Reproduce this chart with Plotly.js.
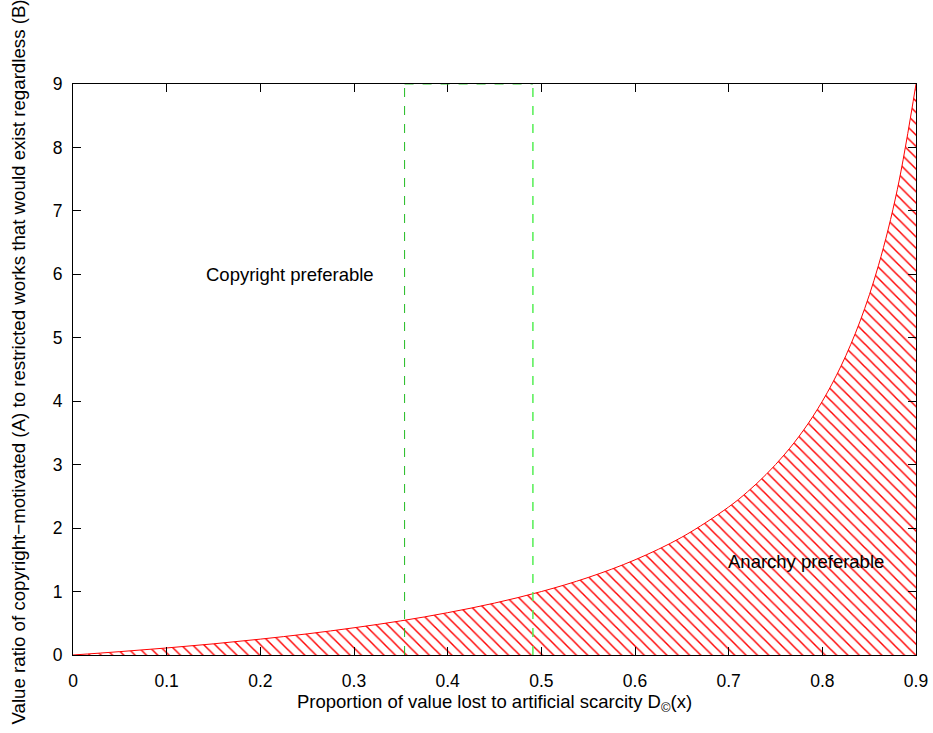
<!DOCTYPE html>
<html>
<head>
<meta charset="utf-8">
<script src="https://cdn.plot.ly/plotly-3.0.1.min.js"></script>
<style>html,body{margin:0;padding:0;background:#fff;}#chart{width:933px;height:733px;}</style>
</head>
<body>
<div id="chart"></div>
<script>
// Proportion of value lost (x) and value ratio (y)
const lossX = [0, 0.05, 0.1, 0.15, 0.2, 0.25, 0.3, 0.35, 0.4, 0.45, 0.5, 0.55, 0.6, 0.65, 0.7, 0.72, 0.74, 0.76, 0.78, 0.8, 0.82, 0.84, 0.86, 0.88, 0.9];
const ratioY = [0, 0.053, 0.111, 0.176, 0.25, 0.333, 0.429, 0.538, 0.667, 0.818, 1.0, 1.222, 1.5, 1.857, 2.333, 2.571, 2.846, 3.167, 3.545, 4.0, 4.556, 5.25, 6.143, 7.333, 9.0];
// Vertical marker positions
const markerLow = 0.354;
const markerHigh = 0.491;
const yTop = 9;
const xTickVals = [0, 0.1, 0.2, 0.3, 0.4, 0.5, 0.6, 0.7, 0.8, 0.9];
const xTickText = ["0", "0.1", "0.2", "0.3", "0.4", "0.5", "0.6", "0.7", "0.8", "0.9"];
const yTickVals = [0, 1, 2, 3, 4, 5, 6, 7, 8, 9];
const regionLabels = ["Copyright preferable", "Anarchy preferable"];
const regionX = [0.14, 0.697];
const regionY = [6, 1.48];
const xTitle = 'Proportion of value lost to artificial scarcity D<sub>©</sub>(x)';
const yTitle = 'Value ratio of copyright\u2212motivated (A) to restricted works that would exist regardless (B)';

const trace = {
  x: lossX, y: ratioY, type: 'scatter', mode: 'lines',
  line: {color: '#ff0000', width: 1, shape: 'spline'},
  fill: 'tozeroy',
  fillcolor: 'rgba(255,255,255,0)',
  fillpattern: {shape: '\\', fgcolor: '#ff0000', bgcolor: 'rgba(255,255,255,0)', size: 8, solidity: 0.18},
  hoverinfo: 'skip'
};

const fam = 'Liberation Sans, Arial, sans-serif';
const labelFont = {family: fam, size: 18.5, color: '#000'};
const tickFont = {family: fam, size: 17.5, color: '#000'};
const yTitleFont = {family: fam, size: 18.7, color: '#000'};

const annotations = regionLabels.map((t, i) => ({
  text: t, x: regionX[i], y: regionY[i], xref: 'x', yref: 'y',
  xanchor: 'left', yanchor: 'middle', showarrow: false, font: labelFont
}));
annotations.push({
  text: yTitle, textangle: -90, xref: 'paper', yref: 'paper', x: -0.0652, y: 0.5,
  xanchor: 'center', yanchor: 'middle', yshift: 7, showarrow: false, font: yTitleFont
});

const layout = {
  width: 933, height: 733,
  margin: {l: 73, r: 17, t: 84, b: 78},
  paper_bgcolor: '#fff', plot_bgcolor: '#fff',
  showlegend: false,
  font: labelFont,
  xaxis: {
    range: [0, 0.9], tickvals: xTickVals, ticktext: xTickText,
    ticks: 'inside', ticklen: 8, tickcolor: '#000', mirror: 'ticks',
    showline: true, linecolor: '#000', linewidth: 1, showgrid: false, zeroline: false,
    tickfont: tickFont, ticklabelstandoff: 10,
    title: {text: xTitle, font: labelFont, standoff: 0}
  },
  yaxis: {
    range: [0, 9], tickvals: yTickVals,
    ticks: 'inside', ticklen: 8, tickcolor: '#000', mirror: 'ticks',
    showline: true, linecolor: '#000', linewidth: 1, showgrid: false, zeroline: false,
    tickfont: tickFont, ticklabelstandoff: 6
  },
  shapes: [
    {type: 'line', xref: 'x', yref: 'y', x0: markerLow, x1: markerLow, y0: 0, y1: yTop, line: {color: '#22bb22', width: 1, dash: 'dash'}},
    {type: 'line', xref: 'x', yref: 'y', x0: markerHigh, x1: markerHigh, y0: 0, y1: yTop, line: {color: '#55ee55', width: 1.5, dash: 'dash'}},
    {type: 'line', xref: 'x', yref: 'y', x0: markerLow, x1: markerHigh, y0: yTop, y1: yTop, line: {color: '#33cc33', width: 1, dash: 'dash'}}
  ],
  annotations: annotations
};

Plotly.newPlot('chart', [trace], layout, {displayModeBar: false, staticPlot: true});
</script>
</body>
</html>
